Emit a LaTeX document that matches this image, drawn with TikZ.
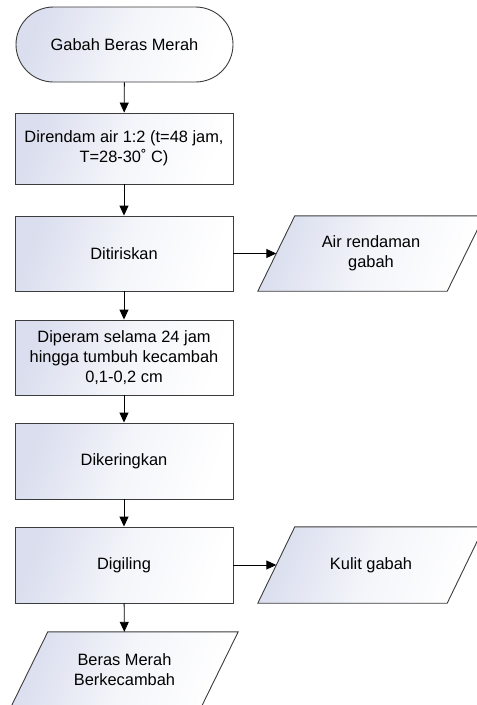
\documentclass[tikz,border=0pt]{standalone}
\usepackage{fontspec}
\setmainfont{Liberation Sans}
\usetikzlibrary{arrows.meta,backgrounds}
\definecolor{gradc}{HTML}{DADEEE}
\definecolor{edgec}{HTML}{3C3C3C}
\newcommand{\drawpara}[1]{\path[parafill] ([xshift=-18.5pt]#1.south west) -- ([xshift=18.5pt]#1.north west) -- ([xshift=18.5pt]#1.north east) -- ([xshift=-18.5pt]#1.south east) -- cycle;}
\begin{document}
\begin{tikzpicture}[x=1pt,y=-1pt,
  every node/.style={font=\fontsize{16.4}{20}\selectfont, align=center, text=black, inner sep=0pt},
  gfill/.style={left color=gradc, right color=white, middle color=gradc!30!white, shading angle=70},
  proc/.style={draw=edgec, line width=0.9pt, minimum width=218pt, minimum height=75pt, gfill},
  term/.style={proc, minimum width=217pt, rounded corners=37.5pt},
  iobox/.style={minimum width=189pt, minimum height=75pt},
  parafill/.style={draw=edgec, line width=0.9pt, gfill},
  flow/.style={-{Triangle[length=10pt,width=9pt]}, line width=0.9pt, draw=black}
]
\clip (0,0) rectangle (477,705);
\useasboundingbox (0,0) rectangle (477,705);
\node[term] (t0) at (124.5,44.5) {Gabah Beras Merah};
\node[proc, minimum height=71pt] (b1) at (124,148.5) {Direndam air 1:2 (t=48 jam,\\ T=28-30˚ C)};
\node[proc] (b2) at (124,253.5) {Ditiriskan};
\node[proc] (b3) at (124,357.5) {Diperam selama 24 jam\\ hingga tumbuh kecambah\\ 0,1-0,2 cm};
\node[proc, minimum height=76pt] (b4) at (124,461) {Dikeringkan};
\node[proc, minimum height=76pt] (b5) at (124,565) {Digiling};
\node[iobox] (p1) at (371,253.5) {Air rendaman\\ gabah};
\node[iobox, minimum height=76pt] (p2) at (371,565) {Kulit gabah};
\node[iobox, minimum width=190pt] (p3) at (124.5,669.5) {Beras Merah\\ Berkecambah};
\begin{scope}[on background layer]
\drawpara{p1}
\drawpara{p2}
\drawpara{p3}
\end{scope}
\draw[flow] (t0) -- (b1);
\draw[flow] (b1) -- (b2);
\draw[flow] (b2) -- (b3);
\draw[flow] (b3) -- (b4);
\draw[flow] (b4) -- (b5);
\draw[flow] (b5) -- (p3);
\draw[flow] (b2) -- (p1);
\draw[flow] (b5) -- (p2);
\end{tikzpicture}
\end{document}
